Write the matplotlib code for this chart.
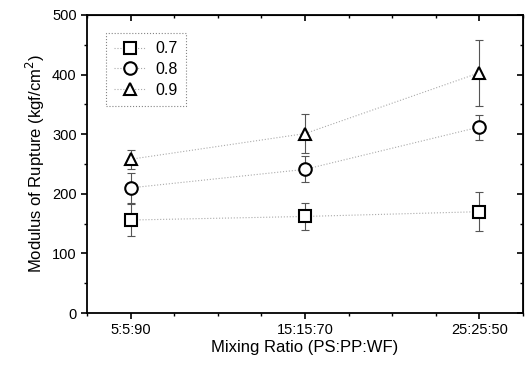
import matplotlib
matplotlib.use("Agg")
import matplotlib.pyplot as plt
import numpy as np

categories = ["5:5:90", "15:15:70", "25:25:50"]
series_labels = ["0.7", "0.8", "0.9"]
vals_07 = [156, 162, 170]
err_07 = [27, 23, 33]
vals_08 = [210, 241, 312]
err_08 = [25, 22, 21]
vals_09 = [258, 301, 403]
err_09 = [16, 33, 55]

plt.rcParams['font.family'] = ['Liberation Sans', 'DejaVu Sans']

fig = plt.figure(figsize=(5.25, 3.74), dpi=100)
ax = fig.add_axes([0.166, 0.163, 0.830, 0.797])

x = np.arange(len(categories))
markers = ['s', 'o', '^']
for vals, errs, m, lab in zip([vals_07, vals_08, vals_09], [err_07, err_08, err_09], markers, series_labels):
    ax.errorbar(x, vals, yerr=errs, fmt='none', ecolor='#555555', elinewidth=0.8,
                capsize=3, capthick=0.8, zorder=2)
    ax.plot(x, vals, linestyle=':', color='#aaaaaa', linewidth=0.8,
            marker=m, markersize=9, markerfacecolor='white', markeredgecolor='black',
            markeredgewidth=1.5, label=lab, zorder=3)

ax.set_xlim(-0.25, 2.25)
ax.set_ylim(0, 500)
ax.set_xticks(x)
ax.set_xticklabels(categories)
ax.set_xticks(np.arange(-0.25, 2.26, 0.25), minor=True)
ax.set_yticks(np.arange(0, 501, 100))
ax.set_yticks(np.arange(0, 501, 50), minor=True)
ax.tick_params(which='major', direction='out', length=4, width=1.2, labelsize=10.5)
ax.tick_params(which='minor', direction='out', length=2.5, width=1.0)

secx = ax.secondary_xaxis('top')
secx.set_xticks(x)
secx.set_xticks(np.arange(-0.25, 2.26, 0.25), minor=True)
secx.tick_params(which='major', direction='in', length=4, width=1.2, labeltop=False)
secx.tick_params(which='minor', direction='in', length=2.5, width=1.0)
secy = ax.secondary_yaxis('right')
secy.set_yticks(np.arange(0, 501, 100))
secy.set_yticks(np.arange(0, 501, 50), minor=True)
secy.tick_params(which='major', direction='in', length=4, width=1.2, labelright=False)
secy.tick_params(which='minor', direction='in', length=2.5, width=1.0)

for s in ax.spines.values():
    s.set_linewidth(1.3)

ax.set_xlabel("Mixing Ratio (PS:PP:WF)", fontsize=12, labelpad=2)
ax.set_ylabel("Modulus of Rupture (kgf/cm$^2$)", fontsize=12, labelpad=4)

leg = ax.legend(loc='upper left', bbox_to_anchor=(0.025, 0.965), fontsize=11.5,
                frameon=True, fancybox=False, edgecolor='#666666',
                handlelength=2.0, borderpad=0.5, labelspacing=0.35, handletextpad=0.6)
leg.get_frame().set_linestyle(':')
leg.get_frame().set_linewidth(0.8)

fig.savefig("out.png", dpi=100)
